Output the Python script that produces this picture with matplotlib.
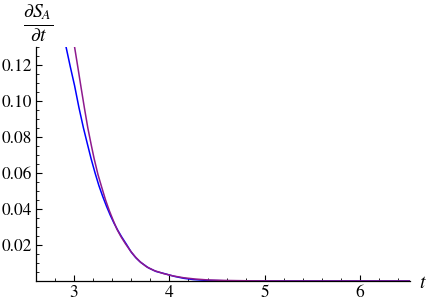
import numpy as np
import matplotlib.pyplot as plt
from matplotlib.ticker import MultipleLocator, FixedLocator

# values
t_blue = [2.913, 2.960, 3.005, 3.050, 3.098, 3.140, 3.178, 3.220, 3.260, 3.300,
          3.340, 3.380, 3.420, 3.460, 3.500, 3.550, 3.600, 3.650, 3.700, 3.780,
          3.860, 3.955, 4.050, 4.150, 4.250, 4.400, 4.600, 5.000, 6.000, 6.525]
y_blue = [0.1306, 0.1190, 0.1085, 0.0965, 0.0850, 0.0760, 0.0680, 0.0600, 0.0530, 0.0470,
          0.0415, 0.0365, 0.0320, 0.0280, 0.0244, 0.0203, 0.0160, 0.0128, 0.0103, 0.0073,
          0.0053, 0.0040, 0.0026, 0.0015, 0.0008, 0.0003, 0.0001, 0.0, 0.0, 0.0]

t_purple = [3.003, 3.040, 3.073, 3.110, 3.144, 3.180, 3.210, 3.250, 3.290, 3.330,
            3.370, 3.410, 3.450, 3.490, 3.540, 3.590, 3.640, 3.690, 3.760, 3.840,
            3.940, 4.040, 4.150, 4.270, 4.400, 4.600, 4.850, 5.200, 6.000, 6.525]
y_purple = [0.1306, 0.1185, 0.1075, 0.0955, 0.0850, 0.0755, 0.0680, 0.0592, 0.0520, 0.0450,
            0.0390, 0.0337, 0.0287, 0.0248, 0.0206, 0.0168, 0.0135, 0.0108, 0.0079, 0.0058,
            0.0041, 0.0028, 0.0018, 0.0011, 0.0006, 0.0003, 0.0001, 0.0, 0.0, 0.0]

x_ticks = [3, 4, 5, 6]
y_ticks = [0.02, 0.04, 0.06, 0.08, 0.10, 0.12]

plt.rcParams['font.family'] = ['STIXGeneral', 'Liberation Serif', 'DejaVu Serif']
plt.rcParams['mathtext.fontset'] = 'stix'
plt.rcParams['font.size'] = 12.5

fig = plt.figure(figsize=(4.27, 3.07), dpi=100)
ax = fig.add_axes([36/427, 26/307, 374/427, 234/307])

ax.plot(t_blue, y_blue, color='#0000ff', linewidth=1.1)
ax.plot(t_purple, y_purple, color='#8e1a8e', linewidth=1.1)

ax.set_xlim(2.6, 6.525)
ax.set_ylim(0, 0.13)

for s in ['top', 'right']:
    ax.spines[s].set_visible(False)
for s in ['left', 'bottom']:
    ax.spines[s].set_linewidth(0.9)

ax.xaxis.set_major_locator(FixedLocator(x_ticks))
ax.xaxis.set_minor_locator(MultipleLocator(0.2))
ax.yaxis.set_major_locator(FixedLocator(y_ticks))
ax.yaxis.set_minor_locator(MultipleLocator(0.005))
ax.set_yticklabels(['%.2f' % v for v in y_ticks])
ax.tick_params(which='major', direction='in', length=4, width=0.8, pad=3)
ax.tick_params(which='minor', direction='in', length=2.2, width=0.6)

fig.text(423/427, 1 - 283/307, r'$t$', ha='center', va='center', fontsize=14)
fig.text(38/427, 1 - 23/307, r'$\frac{\partial S_A}{\partial t}$', ha='center', va='center', fontsize=20)

fig.savefig('out.png', dpi=100)
